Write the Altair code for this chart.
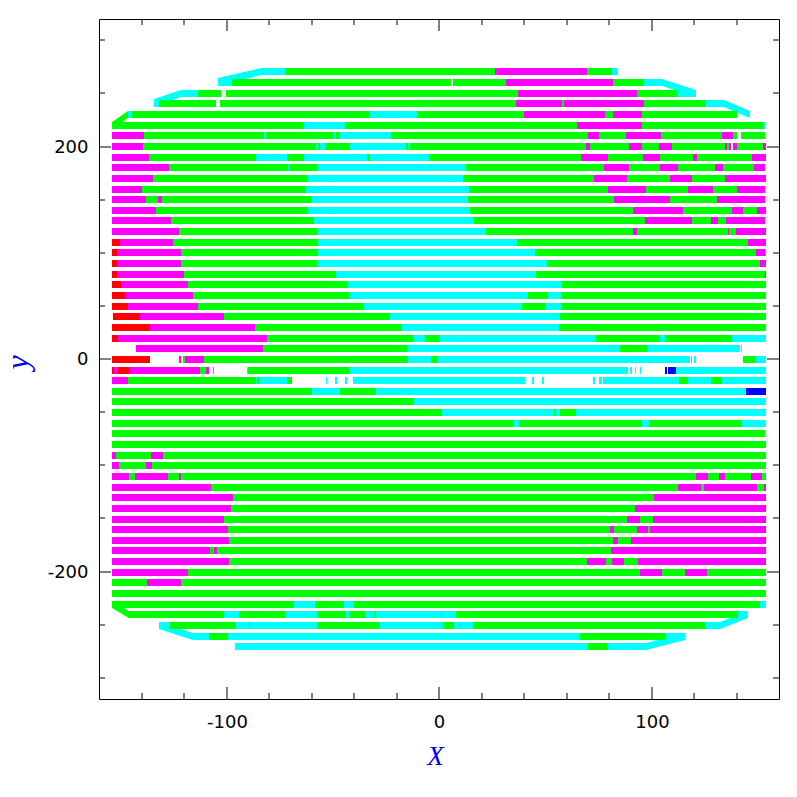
import altair as alt
import pandas as pd

# Each row: start x, then colour code and end x of each run (w = gap)
row_p270 = [-83.6, "c", -72.4, "g", 26.4, "m", 27.2, "g", 27.6, "m", 69.7, "g", 81.5, "c", 84.3]
row_p260 = [-104, "c", -97.4, "g", 5.5, "w", 6.6, "g", 31.3, "m", 80.2, "g", 80.6, "m", 82.1, "g", 96.5, "c", 105.6]
row_p250 = [-121.4, "c", -113.4, "g", -102.5, "w", -100.2, "g", 37.2, "m", 93.4, "g", 112.5, "c", 121]
row_p240 = [-134.1, "c", -131.6, "g", -104.9, "w", -103, "g", 36, "m", 57.9, "g", 58.9, "m", 96.5, "g", 125.4, "c", 134.2]
row_p230 = [-146.3, "c", -144.4, "g", -32.9, "c", -10.3, "g", 40, "m", 78.2, "g", 81.9, "m", 95.6, "g", 140.3]
row_p220 = [-153.9, "g", -63.9, "c", -44.2, "g", 65, "m", 95.6, "g", 152.5, "c", 153.5]
row_p210 = [-153.9, "m", -138.8, "g", -82.3, "c", -81.4, "g", -49.4, "c", -48.7, "g", -47, "c", -22.5, "g", 70.2, "m", 75.3, "g", 88.1, "m", 104.5, "g", 133.2, "m", 138.4, "g", 140.3, "w", 142.2, "g", 153.5]
row_p200 = [-153.9, "m", -139.3, "g", -60, "c", -59.6, "g", -57.8, "c", -56.9, "g", -55.9, "c", -53.6, "g", -41.8, "c", -15.5, "g", -14.5, "c", -13.6, "g", 69.2, "m", 71.1, "g", 89.5, "m", 95.6, "g", 103.6, "m", 109.7, "g", 134.7, "m", 135.6, "g", 136.5, "m", 137.5, "w", 138.4, "m", 140.3, "g", 152.5, "m", 154]
row_p190 = [-153.9, "m", -136.4, "g", -86.1, "c", -71.5, "g", -63.5, "c", -33.8, "g", -32.4, "c", -4.6, "g", 66.9, "m", 79.6, "g", 96.1, "m", 104.1, "g", 119.6, "m", 121.5, "g", 147.4, "m", 154]
row_p180 = [-153.9, "m", -127, "g", -71, "c", -70.5, "g", -57.4, "c", 12.7, "g", 77.7, "m", 89.5, "g", 104.1, "m", 112.5, "g", 129.9, "m", 133.7, "g", 148.3, "m", 153.5]
row_p170 = [-153.9, "m", -134.6, "g", -61.6, "c", 11.3, "g", 73, "m", 88.5, "g", 108.8, "m", 119.1, "g", 134.7, "m", 154]
row_p160 = [-153.9, "m", -139.7, "g", -63, "c", 14.2, "g", 79.6, "m", 97.5, "g", 117.2, "m", 129, "g", 140.3, "m", 153.5]
row_p150 = [-153.9, "m", -137.8, "g", -132.2, "m", -130.3, "g", -60.2, "c", 13.7, "g", 82.4, "m", 108.8, "g", 130.9, "m", 153.5]
row_p140 = [-153.9, "m", -133.1, "g", -61.6, "c", 14.6, "g", 91.4, "m", 114.9, "g", 137.9, "m", 143.1, "g", 149.7, "m", 154]
row_p130 = [-153.9, "m", -126.1, "g", -58.8, "c", 16.5, "g", 97, "m", 119.1, "g", 128.1, "m", 131.4, "g", 135.1, "m", 153.5]
row_p120 = [-153.9, "m", -122.3, "g", -57.4, "c", 22.2, "g", 91.4, "m", 93.2, "g", 136.1, "m", 136.5, "g", 139.8, "m", 154]
row_p110 = [-153.9, "r", -150.1, "m", -125.1, "g", -56.9, "c", 36.8, "g", 145.5, "m", 154]
row_p100 = [-153.9, "r", -151.5, "m", -121.4, "g", -56.9, "c", 45.2, "g", 149.2, "m", 153.5, "g", 154]
row_p90 = [-153.9, "r", -151.5, "m", -121.4, "g", -56.9, "c", 50.9, "g", 151.1, "m", 154]
row_p80 = [-153.9, "r", -151.5, "m", -120, "g", -48.4, "c", 45.7, "g", 153.5, "m", 154]
row_p70 = [-153.9, "r", -149.6, "m", -118.1, "g", -42.8, "c", 57.9, "g", 154]
row_p60 = [-153.9, "r", -147.7, "m", -115.7, "g", -41.8, "c", 41.9, "g", 51.3, "c", 57.5, "g", 154]
row_p50 = [-153.9, "r", -146.3, "m", -113.4, "g", -35.2, "c", 39.1, "g", 49.9, "c", 57.5, "g", 154]
row_p40 = [-153.4, "r", -140.7, "m", -101.1, "g", -23, "c", 57, "g", 154]
row_p30 = [-153.9, "r", -136, "m", -86.5, "g", -17.8, "c", 56.5, "g", 154]
row_p20 = [-153.9, "r", -151, "m", -80.9, "g", -12.2, "c", -6.5, "g", 0, "c", 73.9, "g", 104.1, "c", 106.4, "g", 137.5, "c", 154]
row_p10 = [-142.6, "m", -82.8, "g", -15, "c", 85.2, "g", 97.9, "c", 141.7, "w", 142.2, "c", 142.7]
row_0 = [-153.9, "r", -136, "w", -122.3, "m", -121.4, "w", -120.4, "g", -119.5, "m", -110.5, "g", -15, "c", -3.7, "g", -0.9, "c", 118.2, "w", 118.6, "c", 119.1, "w", 120.1, "c", 121, "w", 143.1, "g", 148.8, "c", 154]
row_m10 = [-153.9, "r", -152.9, "m", -151, "r", -145.8, "m", -112.4, "g", -109.6, "m", -108.2, "w", -106.3, "g", -105.8, "w", -92, "g", -91.6, "w", -90.3, "c", -89.8, "g", -42.3, "c", 89, "w", 89.9, "c", 90.9, "w", 92.3, "c", 92.8, "w", 94.6, "c", 95.1, "w", 106.4, "b", 107.4, "w", 107.8, "b", 111.6, "c", 154]
row_m20 = [-153.9, "m", -146.3, "g", -86.1, "c", -85.6, "g", -84.7, "c", -71.5, "g", -69.1, "w", -53.1, "c", -52.6, "w", -48.9, "c", -48, "w", -44.2, "c", -43.2, "w", -40.4, "c", 40.5, "w", 43.8, "c", 44.8, "w", 48.5, "c", 49.5, "w", 72.5, "c", 73.5, "w", 75.3, "c", 76.8, "w", 77.2, "c", 113, "g", 117.2, "c", 128.1, "g", 133.2, "c", 154]
row_m30 = [-153.9, "g", -59.7, "c", -46.5, "g", -29.9, "c", 144.5, "b", 154]
row_m40 = [-153.9, "g", -11.7, "c", 154]
row_m50 = [-153.9, "g", 1.4, "c", 54.2, "g", 54.6, "c", 57, "g", 64.5, "c", 154]
row_m60 = [-153.9, "g", 35.3, "c", 37.7, "g", 95.6, "c", 98.9, "g", 142.7, "c", 154]
row_m70 = [-153.9, "g", 153.5]
row_m80 = [-153.9, "g", 154]
row_m90 = [-153.9, "m", -152, "g", -135.5, "m", -129.8, "g", 154]
row_m100 = [-153.9, "m", -150.6, "g", -137.8, "m", -135, "g", 154]
row_m110 = [-153.9, "m", -145.8, "g", -143, "m", -127.5, "g", -122.3, "m", -121.4, "g", 121, "m", 126.7, "g", 131.8, "m", 134.7, "g", 146.9, "m", 152.1, "g", 154]
row_m120 = [-153.9, "m", -108.2, "g", -107.8, "m", -107.3, "g", 112.5, "m", 123.4, "g", 124.8, "m", 149.7, "g", 153, "m", 154]
row_m130 = [-153.9, "m", -96.9, "g", 101.2, "m", 154]
row_m140 = [-153.9, "m", -97.8, "g", 92.3, "m", 154]
row_m150 = [-153.9, "m", -101.1, "g", 88.5, "m", 94.6, "g", 100.8, "m", 154]
row_m160 = [-153.9, "m", -99.3, "g", 80.5, "m", 82.4, "g", 93.2, "m", 98.4, "g", 99.4, "m", 154]
row_m170 = [-153.9, "m", -98.8, "g", 81.9, "m", 84.3, "g", 90.4, "m", 154]
row_m180 = [-153.9, "m", -107.7, "g", -107.2, "m", -106.8, "g", -105.8, "m", -104.4, "g", 81, "m", 154]
row_m190 = [-153.9, "m", -98.8, "g", 69.7, "m", 78.6, "g", 81.5, "m", 87.1, "g", 93.7, "m", 154]
row_m200 = [-153.9, "m", -118.1, "g", 94.6, "m", 105, "g", 115.8, "m", 126.2, "g", 154]
row_m210 = [-153.9, "g", -137.4, "m", -121.4, "g", 154]
row_m220 = [-153.9, "g", 154]
row_m230 = [-153.9, "g", -68.2, "c", -58.2, "g", -44.6, "c", -39.9, "g", 151.1, "c", 154]
row_m240 = [-145.8, "g", -101.1, "c", -94.1, "g", -72.4, "c", -57.4, "g", -43.7, "c", -42.3, "g", -34.8, "c", -31.9, "g", -31.5, "c", -30.5, "g", -30, "c", 1, "g", 1.4, "c", 8, "g", 140.8, "c", 145.5]
row_m250 = [-131.7, "c", -126.5, "g", -96, "c", -89.4, "g", -88.9, "c", -57.4, "g", -28.2, "c", 1, "g", 1.4, "c", 1.9, "g", 5.7, "c", 6.2, "g", 7.1, "c", 9.5, "g", 9.9, "c", 16, "g", 125.4, "c", 132.3]
row_m260 = [-115.6, "c", -108.2, "g", -99.3, "c", 66.4, "g", 106.4, "c", 115.8]
row_m270 = [-96, "c", 70.2, "g", 79.1, "c", 97.5]

row_y = [270.6, 260.2, 249.9, 240.5, 230.1, 219.8, 210.4, 200, 189.7, 180.3, 170, 159.6, 150.2, 139.9, 130, 120.2, 109.8,
         100.4, 90, 79.7, 70.3, 59.9, 49.6, 40.2, 29.8, 19.5, 10.1, -0.3, -10.6, -20, -30.4, -39.8, -50.1, -60.5, -69.9,
         -80.2, -90.6, -100, -110.3, -120.7, -130.1, -140.4, -150.8, -160.2, -170.5, -179.9, -190.3, -200.6, -210,
         -220.4, -230.7, -240.1, -250.5, -260.8, -270.2]
all_rows = [row_p270, row_p260, row_p250, row_p240, row_p230, row_p220, row_p210, row_p200, row_p190, row_p180,
            row_p170, row_p160, row_p150, row_p140, row_p130, row_p120, row_p110, row_p100, row_p90, row_p80,
            row_p70, row_p60, row_p50, row_p40, row_p30, row_p20, row_p10, row_0, row_m10, row_m20, row_m30,
            row_m40, row_m50, row_m60, row_m70, row_m80, row_m90, row_m100, row_m110, row_m120, row_m130,
            row_m140, row_m150, row_m160, row_m170, row_m180, row_m190, row_m200, row_m210, row_m220, row_m230,
            row_m240, row_m250, row_m260, row_m270]

# Slanted end pieces of the outline: id, colour, x, upper y, lower y
cap_id = [1, 1, 2, 2, 3, 3, 4, 4, 5, 5, 6, 6, 7, 7, 8, 8, 9, 9]
cap_col = ["c", "c", "c", "c", "g", "g", "c", "c", "c", "c", "g", "g", "c", "c", "c", "c", "c", "c"]
cap_x = [-104, -83.6, -134.1, -121.4, -153.9, -146.3, 105, 121, 134.2, 146.4,
         -153.9, -145.8, -131.7, -115.6, 132.3, 145.5, 97.5, 115.8]
cap_hi = [264.5, 274, 244.7, 253.2, 223.1, 233.4, 263.5, 253.2, 243.8, 233.4,
          -227.8, -237.2, -247.5, -257.9, -247.5, -237.2, -267.3, -257.9]
cap_lo = [257, 267.3, 237.2, 246.6, 216.5, 226.8, 257, 246.6, 237.2, 226.8,
          -234.4, -243.8, -254.1, -264.5, -254.1, -243.8, -273.9, -264.5]

color_codes = ["g", "m", "c", "r", "b"]
color_values = ["#00ff00", "#ff00ff", "#00ffff", "#ff0000", "#0000ff"]

x_major = [-100, 0, 100]
x_minor = [-140, -120, -80, -60, -40, -20, 20, 40, 60, 80, 120, 140]
y_major = [-200, 0, 200]
y_minor = [-300, -250, -150, -100, -50, 50, 100, 150, 250, 300]
major_len_x, minor_len_x = 5.6, 2.8
major_len_y, minor_len_y = 11.3, 5.6

half_thick = 3.3
seg = []
for y, r in zip(row_y, all_rows):
    prev = r[0]
    for i in range(1, len(r), 2):
        if r[i] != "w":
            seg.append({"x0": prev, "x1": r[i + 1], "y0": y - half_thick, "y1": y + half_thick, "col": r[i]})
        prev = r[i + 1]
seg_df = pd.DataFrame(seg)
cap_df = pd.DataFrame({"id": cap_id, "col": cap_col, "x": cap_x, "hi": cap_hi, "lo": cap_lo})

tick_rows = []
for v in x_major:
    tick_rows += [dict(a=v, b=-320, a2=v, b2=-320 + major_len_y), dict(a=v, b=320, a2=v, b2=320 - major_len_y)]
for v in x_minor:
    tick_rows += [dict(a=v, b=-320, a2=v, b2=-320 + minor_len_y), dict(a=v, b=320, a2=v, b2=320 - minor_len_y)]
for v in y_major:
    tick_rows += [dict(a=-160, b=v, a2=-160 + major_len_x, b2=v), dict(a=160, b=v, a2=160 - major_len_x, b2=v)]
for v in y_minor:
    tick_rows += [dict(a=-160, b=v, a2=-160 + minor_len_x, b2=v), dict(a=160, b=v, a2=160 - minor_len_x, b2=v)]
tick_df = pd.DataFrame(tick_rows)

xs = alt.Scale(domain=[-160, 160], nice=False, zero=False, round=True)
ys = alt.Scale(domain=[-320, 320], nice=False, zero=False, round=True)
cs = alt.Scale(domain=color_codes, range=color_values)

axis_style = dict(tickSize=0, domain=False, grid=False, labelFont="DejaVu Sans", labelFontSize=18,
                  labelColor="black", labelExpr="'' + datum.value", titleFont="Liberation Serif",
                  titleFontStyle="italic", titleFontWeight="normal", titleColor="#0000ff")
x_axis = alt.Axis(values=x_major, labelPadding=14, titleFontSize=27, titlePadding=12, titleX=336, **axis_style)
y_axis = alt.Axis(values=y_major, labelPadding=11, titleFontSize=32, titlePadding=13, titleY=343, **axis_style)

bars = alt.Chart(seg_df).mark_rect().encode(
    x=alt.X("x0:Q", scale=xs, title="X", axis=x_axis),
    x2="x1:Q",
    y=alt.Y("y0:Q", scale=ys, title="y", axis=y_axis),
    y2="y1:Q",
    color=alt.Color("col:N", scale=cs, legend=None),
)

caps = alt.Chart(cap_df).mark_area().encode(
    x=alt.X("x:Q", scale=xs, title="X", axis=x_axis),
    y=alt.Y("hi:Q", scale=ys, title="y", axis=y_axis),
    y2="lo:Q",
    color=alt.Color("col:N", scale=cs, legend=None),
    detail="id:N",
)

ticks = alt.Chart(tick_df).mark_rule(color="black", strokeWidth=1).encode(
    x=alt.X("a:Q", scale=xs, title="X", axis=x_axis),
    x2="a2:Q",
    y=alt.Y("b:Q", scale=ys, title="y", axis=y_axis),
    y2="b2:Q",
)

chart = alt.layer(caps, bars, ticks).properties(
    width=680, height=680, autosize=alt.AutoSizeParams(type="none"),
    padding={"left": 91, "top": 11, "right": 10, "bottom": 90}, background="white",
).configure_view(stroke="black", strokeWidth=1)

chart.save("out.html", embed_options={"renderer": "svg", "actions": False})
